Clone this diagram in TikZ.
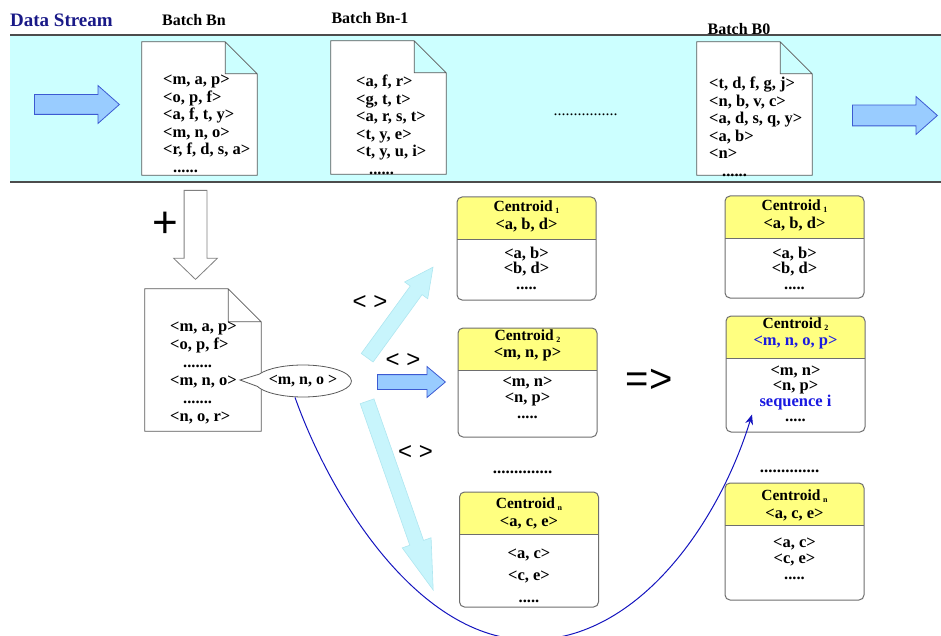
\documentclass[tikz,border=0pt]{standalone}
\usepackage{fontspec}
\setmainfont{Liberation Serif}
\setsansfont{Liberation Sans}
\usetikzlibrary{positioning,calc,arrows.meta,shapes.arrows,shapes.callouts}

\definecolor{bandcyan}{RGB}{204,255,255}
\definecolor{streamnavy}{RGB}{25,25,135}
\definecolor{arrowfill}{RGB}{153,204,255}
\definecolor{arrowline}{RGB}{60,90,210}
\definecolor{paleflow}{RGB}{200,245,252}
\definecolor{paleedge}{RGB}{175,230,240}
\definecolor{headyellow}{RGB}{255,255,128}
\definecolor{boxgray}{RGB}{110,110,110}
\definecolor{seqblue}{RGB}{25,25,225}

\newcommand{\csub}[1]{\,{\fontsize{8}{8}\selectfont\raisebox{-2pt}{#1}}}
\newcommand{\cword}{{\fontsize{15.5}{17}\selectfont Centroid}}

\begin{document}
\begin{tikzpicture}[x=1pt,y=-1pt,
  title/.style={font=\bfseries\fontsize{16}{18}\selectfont, inner sep=0pt},
  seqtxt/.style={font=\bfseries\fontsize{16.5}{#1}\selectfont, inner sep=0pt, align=left, anchor=north west},
  docpage/.style={minimum width=115pt, minimum height=133pt, inner sep=0pt},
  docline/.style={draw=gray!70!black, fill=white, line width=0.8pt},
  bigarrow/.style={single arrow, anchor=tail, draw=arrowline, fill=arrowfill, line width=0.8pt, inner sep=0pt, text depth=0pt},
  flow/.style={single arrow, anchor=tail, draw=paleedge, fill=paleflow, line width=0.6pt, inner sep=0pt, text height=14pt, text depth=0pt},
  centroid/.style={draw=boxgray, fill=white, line width=1pt, rounded corners=5pt, minimum width=139pt, inner sep=0pt,
    path picture={\fill[headyellow, sharp corners] (path picture bounding box.north west) rectangle ([yshift=-42pt]path picture bounding box.north east);
      \draw[boxgray, line width=1pt, sharp corners] ([yshift=-42pt]path picture bounding box.north west) -- ([yshift=-42pt]path picture bounding box.north east);}},
  headtxt/.style={font=\bfseries\fontsize{16.5}{17.5}\selectfont, align=center, inner sep=0pt},
  bodytxt/.style={font=\bfseries\fontsize{16.5}{#1}\selectfont, align=center, inner sep=0pt, anchor=north},
  cmp/.style={font=\sffamily\fontsize{24}{24}\selectfont, inner sep=0pt},
  more/.style={font=\bfseries\fontsize{17}{17}\selectfont, inner sep=0pt}
]
\useasboundingbox (0,0) rectangle (941,636);

% stream band
\fill[bandcyan] (10,35) rectangle (941,182);
\draw[gray!60!black, line width=1.2pt] (10,35) -- (941,35) (10,182) -- (941,182);

\node[title, font=\bfseries\fontsize{19}{21}\selectfont, text=streamnavy, anchor=west] (stream) at (10,20) {Data Stream};
\node[title] (tbn) at (194,20) {Batch Bn};
\node[title] (tbn1) at (370,18) {Batch Bn-1};
\node[title] (tb0) at (739,29) {Batch B0};

\node[bigarrow, text height=19pt, single arrow head extend=9pt, single arrow tip angle=83, minimum height=85pt] (inflow) at (34,104.5) {};
\node[bigarrow, text height=20pt, single arrow head extend=8.5pt, single arrow tip angle=83, minimum height=85pt] (outflow) at (852,115.5) {};

% batches
\node[docpage] (bn) at (199.5,108.5) {};
\node[docpage] (bn1) at (388.5,107.5) {};
\node[docpage] (b0) at (754.5,108.5) {};
\node[docpage, minimum width=116pt, minimum height=142pt] (merged) at (203,360) {};
\foreach \d/\f in {bn/32pt,bn1/32pt,b0/32pt,merged/33pt}
  \draw[docline] (\d.north west) -- ([xshift=-\f]\d.north east) -- ([yshift=-\f]\d.north east) -- (\d.south east) -- (\d.south west) -- cycle
    ([xshift=-\f]\d.north east) |- ([yshift=-\f]\d.north east);

\node[seqtxt=17.5pt] (bnlist) at (163,75) {<m, a, p>\\<o, p, f>\\<a, f, t, y>\\<m, n, o>\\<r, f, d, s, a>\\\hspace{10pt}......};
\node[seqtxt=17.5pt] (bn1list) at (356,75) {<a, f, r>\\<g, t, t>\\<a, r, s, t>\\<t, y, e>\\<t, y, u, i>\\\hspace{13pt}......};
\node[seqtxt=17.5pt] (b0list) at (709,77) {<t, d, f, g, j>\\<n, b, v, c>\\<a, d, s, q, y>\\<a, b>\\<n>\\\hspace{13pt}......};
\node[font=\fontsize{16}{16}\selectfont, inner sep=0pt] (gap) at (585.5,115) {................};

% merge into the current batch
\node[single arrow, anchor=tail, rotate=-90, draw=gray, fill=white, line width=0.8pt, inner sep=0pt, text height=22pt, text depth=0pt,
  single arrow head extend=10.5pt, single arrow tip angle=92, minimum height=89pt] (merge) at (195.5,190) {};
\node[font=\sffamily\fontsize{44}{44}\selectfont, inner sep=0pt] (plus) at (165.5,225) {+};
\node[seqtxt=18pt] (mergedlist) at (170,322) {<m, a, p>\\<o, p, f>\\\hspace{13pt}.......\\<m, n, o>\\\hspace{13pt}.......\\<n, o, r>};

\node[ellipse callout, draw=gray!70!black, fill=white, line width=0.8pt, minimum width=90pt, minimum height=32pt, inner sep=0pt,
  callout absolute pointer={(240,380)}, callout pointer arc=45, font=\bfseries\fontsize{16}{17}\selectfont] (probe) at (303,381) {<m, n, o >};

% comparisons
\node[flow, rotate=54, single arrow head extend=7pt, single arrow tip angle=53, minimum height=112pt] (toone) at (367,358) {};
\node[flow, rotate=-70.7, single arrow head extend=8pt, single arrow tip angle=34, minimum height=200pt] (ton) at (367,401) {};
\node[bigarrow, text height=14pt, single arrow head extend=8pt, single arrow tip angle=80, minimum height=68pt] (totwo) at (377,382) {};
\node[cmp] (cmpone) at (370,303) {< >};
\node[cmp] (cmptwo) at (403,361) {< >};
\node[cmp] (cmpn) at (415.5,453) {< >};

% centroids before
\node[centroid, minimum height=103pt] (mid1) at (526.5,248.5) {};
\node[headtxt] (mid1head) at ([yshift=-20pt]mid1.north) {\cword\csub{1}\\<a, b, d>};
\node[bodytxt=15.5pt] (mid1body) at ([yshift=-50pt]mid1.north) {<a, b>\\<b, d>\\.....};
\node[centroid, minimum height=109pt] (mid2) at (527.5,382.5) {};
\node[headtxt] (mid2head) at ([yshift=-18pt]mid2.north) {\cword\csub{2}\\<m, n, p>};
\node[bodytxt=16pt] (mid2body) at ([yshift=-49pt]mid2.north) {<m, n>\\<n, p>\\.....};
\node[more] (midmore) at (522.5,472) {..............};
\node[centroid, minimum height=115pt] (midn) at (529,549.5) {};
\node[headtxt] (midnhead) at ([yshift=-22pt]midn.north) {\cword\csub{n}\\<a, c, e>};
\node[bodytxt=22pt] (midnbody) at ([yshift=-57pt]midn.north) {<a, c>\\<c, e>\\.....};

\node[font=\sffamily\fontsize{40}{40}\selectfont, inner sep=0pt] (becomes) at (649,381) {=>};

% centroids after
\node[centroid, minimum height=102pt] (right1) at (794.5,247) {};
\node[headtxt] (right1head) at ([yshift=-20pt]right1.north) {\cword\csub{1}\\<a, b, d>};
\node[bodytxt=15.5pt] (right1body) at ([yshift=-51pt]right1.north) {<a, b>\\<b, d>\\.....};
\node[centroid, minimum height=116pt] (right2) at (795.5,374) {};
\node[headtxt] (right2head) at ([yshift=-18pt]right2.north) {\cword\csub{2}\\\textcolor{seqblue}{<m, n, o, p>}};
\node[bodytxt=15.5pt] (right2body) at ([yshift=-50pt]right2.north) {<m, n>\\<n, p>\\\textcolor{seqblue}{sequence i}\\.....};
\node[more] (rightmore) at (789.5,471) {..............};
\node[centroid, minimum height=117pt] (rightn) at (794.5,541.5) {};
\node[headtxt] (rightnhead) at ([yshift=-23pt]rightn.north) {\cword\csub{n}\\<a, c, e>};
\node[bodytxt=16pt] (rightnbody) at ([yshift=-55pt]rightn.north) {<a, c>\\<c, e>\\.....};

% the sequence joins centroid 2
\coordinate (dip) at (530,640);
\coordinate (seqin) at ([xshift=-43.5pt,yshift=18pt]right2.south);
\draw[seqblue!85!black, line width=1pt, -{Stealth[length=10pt,width=8pt]}] ([xshift=-8pt]probe.south) .. controls +(37,104) and +(-110,0) .. (dip)
  .. controls +(110,0) and +(-32,105) .. (seqin);
\end{tikzpicture}
\end{document}
